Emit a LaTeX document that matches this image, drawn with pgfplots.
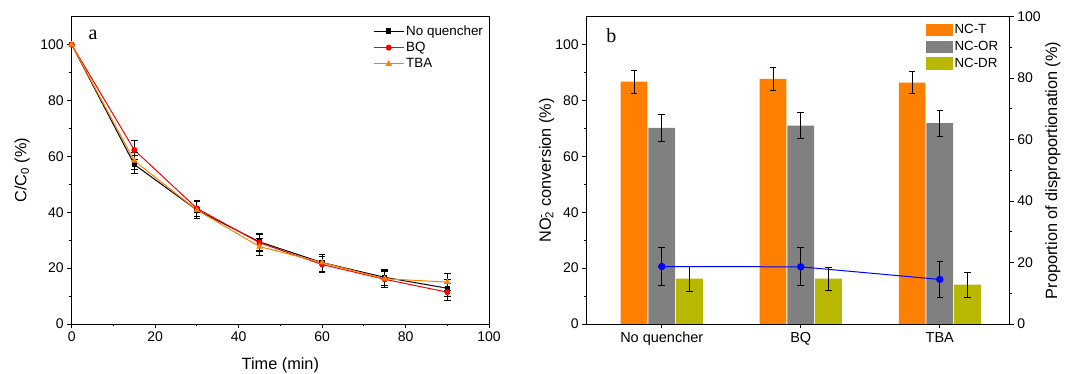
\documentclass[border=0pt]{standalone}
\usepackage{pgfplots}
\pgfplotsset{compat=1.18}
\usepackage{pgfplotstable}
\usepackage{fontspec}
\setmainfont{Liberation Sans}
\newfontfamily\seriffont{Liberation Serif}

\definecolor{cOrange}{HTML}{FF8000}
\definecolor{cGray}{HTML}{808080}
\definecolor{cOlive}{HTML}{B8B800}
\definecolor{cRed}{HTML}{FF0000}
\definecolor{cBlue}{HTML}{0000FF}

\pgfplotstableread{
t nq nqe bq bqe tba tbae
0 100 0 100 0 100 0
15 57.1 3.2 62.3 3.5 58.4 3.0
30 40.8 3.0 41.4 3.0 40.8 3.0
45 29.4 3.0 29.1 3.0 27.7 3.0
60 22.0 3.0 21.3 3.0 22.0 3.0
75 16.7 3.0 16.0 3.0 16.2 3.0
90 12.8 3.0 11.4 3.0 15.0 3.0
}\kinetics

\pgfplotstableread{
x t te o oe d de
0 86.8 4.1 70.2 4.7 16.2 4.4
1 87.7 4.2 71.0 4.7 16.2 4.2
2 86.4 4.0 71.9 4.6 14.1 4.5
}\bars

\pgfplotstableread{
x p pe
0 18.7 6.2
1 18.6 6.2
2 14.5 6.0
}\prop

\pgfplotsset{
  mystyle/.style={
    scale only axis,
    axis line style={line width=0.8pt},
    every tick/.style={black, line width=0.8pt},
    tick align=outside,
    major tick length=4.5pt,
    minor tick length=2.5pt,
    ticklabel style={font=\fontsize{14}{16}\selectfont},
    label style={font=\fontsize{16.3}{19}\selectfont},
    /pgf/number format/assume math mode=true,
  },
  errstyle/.style={
    error bars/.cd, y dir=both, y explicit,
    error bar style={black, line width=0.8pt},
    error mark options={rotate=90, mark size=3.3pt, black, line width=0.8pt},
  },
}

\begin{document}
\begin{tikzpicture}
\useasboundingbox (0pt,0pt) rectangle (1065pt,374pt);

% ---------------- panel a ----------------
\begin{axis}[mystyle,
  at={(71.7pt,50pt)}, anchor=south west,
  width=417.3pt, height=307.3pt,
  xmin=0, xmax=100, ymin=0, ymax=110,
  xtick={0,20,...,100}, ytick={0,20,...,100},
  minor x tick num=1, minor y tick num=1,
  xtick pos=bottom, ytick pos=left,
  xlabel={Time (min)}, ylabel={C/C\textsubscript{0} (\%)},
  x label style={at={(axis description cs:0.5,-0.135)}, anchor=center},
  y label style={at={(axis description cs:-0.119,0.5)}, anchor=center},
  legend style={at={(0.998,0.985)}, anchor=north east, draw=none, fill=none,
    font=\fontsize{13.4}{15}\selectfont, row sep=1.5pt},
  legend cell align=left,
  legend image code/.code={\draw[mark repeat=2, mark phase=2, #1] plot coordinates {(0pt,0pt) (15pt,0pt) (30pt,0pt)};},
]
\addplot[black, line width=1pt, mark=square*, mark size=2.2pt, mark options={solid}, errstyle]
  table[x=t, y=nq, y error=nqe]{\kinetics};
\addlegendentry{No quencher}
\addplot[cRed, line width=1pt, mark=*, mark size=2.5pt, mark options={solid}, errstyle]
  table[x=t, y=bq, y error=bqe]{\kinetics};
\addlegendentry{BQ}
\addplot[cOrange, line width=1pt, mark=triangle*, mark size=2.8pt, mark options={solid}, errstyle]
  table[x=t, y=tba, y error=tbae]{\kinetics};
\addlegendentry{TBA}
\node[anchor=base west, font=\seriffont\fontsize{20}{24}\selectfont] at (rel axis cs:0.032,0.927) {a};
\end{axis}

% ---------------- panel b ----------------
\begin{axis}[mystyle,
  at={(586.7pt,50pt)}, anchor=south west,
  width=422.6pt, height=307.3pt,
  xmin=-0.54, xmax=2.5, ymin=0, ymax=110,
  ybar=1pt, bar width=26.7pt,
  xtick={0,1,2}, xticklabels={No quencher, BQ, TBA},
  x tick label style={font=\fontsize{14.5}{17}\selectfont},
  ytick={0,20,...,100}, minor y tick num=1,
  xtick pos=bottom, ytick pos=left,
  ylabel={NO\rlap{\textsuperscript{-}}\textsubscript{2} conversion (\%)},
  y label style={at={(axis description cs:-0.095,0.5)}, anchor=center},
  legend style={at={(0.986,0.988)}, anchor=north east, draw=none, fill=none,
    font=\fontsize{13.3}{15}\selectfont, row sep=2pt},
  legend cell align=left,
  legend image code/.code={\fill[#1] (0pt,-6.2pt) rectangle (27pt,6.2pt);},
]
\addplot[fill=cOrange, draw=none, errstyle] table[x=x, y=t, y error=te]{\bars};
\addlegendentry{NC-T}
\addplot[fill=cGray, draw=none, errstyle] table[x=x, y=o, y error=oe]{\bars};
\addlegendentry{NC-OR}
\addplot[fill=cOlive, draw=none, errstyle] table[x=x, y=d, y error=de]{\bars};
\addlegendentry{NC-DR}
\node[anchor=base west, font=\seriffont\fontsize{20}{24}\selectfont] at (rel axis cs:0.038,0.915) {b};
\end{axis}

\begin{axis}[mystyle,
  at={(586.7pt,50pt)}, anchor=south west,
  width=422.6pt, height=307.3pt,
  xmin=-0.54, xmax=2.5, ymin=0, ymax=100,
  axis x line=none, axis y line*=right,
  ytick={0,20,...,100}, minor y tick num=1,
  ylabel={Proportion of disproportionation (\%)},
  y label style={at={(axis description cs:1.103,0.5)}, anchor=center, rotate=0},
]
\addplot[cBlue, line width=1pt, mark=*, mark size=3.2pt, mark options={solid}, errstyle]
  table[x=x, y=p, y error=pe]{\prop};
\end{axis}
\end{tikzpicture}
\end{document}
